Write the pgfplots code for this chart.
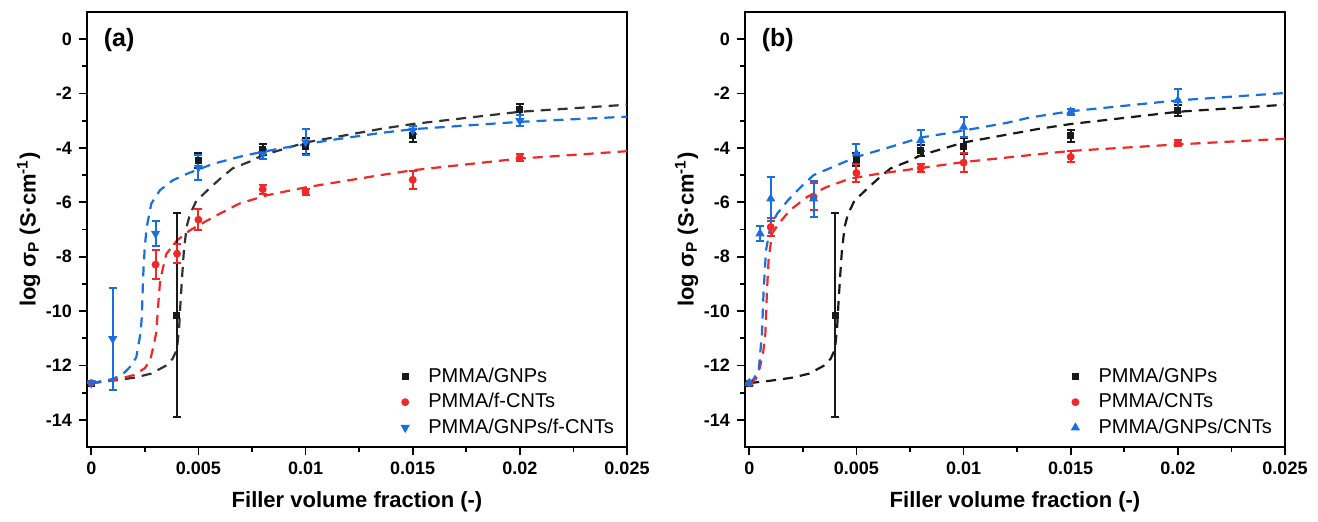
\documentclass[border=0pt]{standalone}
\usepackage{pgfplots}
\pgfplotsset{compat=1.18}
\usepackage{fontspec}
\setmainfont{Liberation Sans}

\definecolor{cblk}{RGB}{25,25,25}
\definecolor{cfitk}{RGB}{50,50,50}
\definecolor{cred}{RGB}{240,40,40}
\definecolor{cblu}{RGB}{25,110,225}

\pgfplotsset{
  panel/.style={
    scale only axis, width=270pt, height=217.5pt,
    xmin=-0.0002, xmax=0.025, ymin=-15, ymax=1,
    xtick={0,0.005,0.01,0.015,0.02,0.025},
    ytick={-14,-12,-10,-8,-6,-4,-2,0},
    minor x tick num=1, minor y tick num=1,
    tick pos=left, tick align=outside,
    major tick length=4pt, minor tick length=2.5pt,
    axis line style={line width=1pt},
    every tick/.style={line width=0.9pt, black},
    scaled x ticks=false,
    /pgf/number format/assume math mode=true,
    xticklabel style={/pgf/number format/fixed, /pgf/number format/precision=3},
    ticklabel style={font=\fontsize{9}{10}\selectfont\bfseries},
    xlabel={Filler volume fraction (-)},
    ylabel={log σ\textsubscript{P} (S·cm\textsuperscript{-1})},
    label style={font=\fontsize{11}{13}\selectfont\bfseries},
    ylabel shift=-4pt, xlabel shift=1.5pt,
    legend style={at={(0.995,0.005)}, anchor=south east, draw=none, fill=none,
      font=\fontsize{10}{12.5}\selectfont, column sep=8pt},
    legend cell align=left,
  },
  fit/.style={no marks, line width=1.1pt, dash pattern=on 5pt off 3.5pt},
  dat/.style={only marks, line width=0.9pt,
    error bars/y dir=both, error bars/y explicit,
    error bars/error bar style={line width=1pt},
    error bars/error mark options={rotate=90, mark size=2pt, line width=1pt}},
}

\begin{document}
\begin{tikzpicture}
\useasboundingbox (-43.5pt,-37pt) rectangle (615.5pt,223.5pt);

% ---------- (a) ----------
\begin{axis}[panel]
\addplot[fit, cfitk, forget plot] coordinates {
 (0,-12.65) (0.001,-12.56) (0.002,-12.45) (0.0028,-12.3) (0.0035,-12.0)
 (0.0038,-11.75) (0.004,-11.4) (0.0041,-10.6) (0.00417,-9.6) (0.00425,-8.6)
 (0.00432,-7.8) (0.00445,-6.9) (0.0046,-6.45) (0.0049,-5.95) (0.0055,-5.5)
 (0.0061,-5.07) (0.0066,-4.75) (0.0074,-4.5) (0.008,-4.27) (0.01,-3.8)
 (0.0135,-3.3) (0.015,-3.12) (0.02,-2.67) (0.025,-2.41)};
\addplot[fit, cred, forget plot] coordinates {
 (0,-12.65) (0.001,-12.55) (0.002,-12.35) (0.0025,-12.1) (0.00275,-11.8)
 (0.0029,-11.3) (0.00303,-10.8) (0.00314,-9.6) (0.0032,-9.0) (0.00329,-8.6)
 (0.0035,-7.9) (0.004,-7.4) (0.0046,-7.03) (0.0057,-6.54) (0.0069,-6.05)
 (0.0082,-5.74) (0.01,-5.45) (0.0135,-5.0) (0.015,-4.82) (0.02,-4.39) (0.025,-4.12)};
\addplot[fit, cblu, forget plot] coordinates {
 (0,-12.65) (0.001,-12.5) (0.0015,-12.3) (0.0018,-12.06) (0.0021,-11.7)
 (0.0023,-10.8) (0.00236,-10.2) (0.0024,-9.2) (0.00244,-8.4) (0.0025,-7.6)
 (0.00259,-6.9) (0.0028,-6.05) (0.0032,-5.56) (0.0038,-5.19) (0.0045,-4.94)
 (0.0057,-4.58) (0.0072,-4.27) (0.0088,-4.02) (0.0111,-3.72) (0.0135,-3.45)
 (0.015,-3.31) (0.02,-3.04) (0.025,-2.85)};

\addplot[dat, cblk, mark=square*, mark size=1.3pt] table[x=x, y=y, y error=e] {
x y e
0 -12.65 0
0.004 -10.16 3.75
0.005 -4.45 0.27
0.008 -4.07 0.2
0.01 -3.93 0.28
0.015 -3.53 0.24
0.02 -2.6 0.2
};
\addlegendentry{PMMA/GNPs}
\addplot[dat, cred, mark=*, mark size=1.5pt] table[x=x, y=y, y error=e] {
x y e
0 -12.65 0
0.003 -8.29 0.52
0.004 -7.89 0.34
0.005 -6.64 0.39
0.008 -5.52 0.17
0.01 -5.62 0.12
0.015 -5.17 0.33
0.02 -4.36 0.12
};
\addlegendentry{PMMA/f-CNTs}
\addplot[dat, cblu, mark=triangle*, mark size=1.8pt, mark options={rotate=180}] table[x=x, y=y, y error=e] {
x y e
0 -12.65 0
0.001 -11.02 1.87
0.003 -7.15 0.47
0.005 -4.72 0.46
0.008 -4.23 0.18
0.01 -3.78 0.49
0.015 -3.35 0.15
0.02 -3.0 0.2
};
\addlegendentry{PMMA/GNPs/f-CNTs}
\node[anchor=west, font=\fontsize{12.5}{14}\selectfont\bfseries] at (rel axis cs:0.018,0.935) {(a)};
\end{axis}

% ---------- (b) ----------
\begin{axis}[panel, at={(329pt,0pt)}]
\addplot[fit, cblk, forget plot] coordinates {
 (0,-12.65) (0.001,-12.56) (0.002,-12.45) (0.0028,-12.3) (0.0035,-12.0)
 (0.0038,-11.75) (0.004,-11.4) (0.0041,-10.6) (0.00417,-9.6) (0.00425,-8.6)
 (0.00432,-7.8) (0.00445,-6.9) (0.0046,-6.45) (0.0049,-5.95) (0.0055,-5.5)
 (0.0061,-5.07) (0.0066,-4.75) (0.0074,-4.5) (0.008,-4.27) (0.01,-3.8)
 (0.0135,-3.3) (0.015,-3.12) (0.02,-2.67) (0.025,-2.41)};
\addplot[fit, cred, forget plot] coordinates {
 (0,-12.65) (0.0003,-12.5) (0.0005,-12.06) (0.00065,-11.5) (0.00075,-10.83)
 (0.00082,-9.36) (0.0009,-8.13) (0.00106,-7.15) (0.00137,-6.79) (0.0019,-6.29)
 (0.0027,-5.8) (0.0036,-5.44) (0.0047,-5.13) (0.0061,-4.94) (0.008,-4.74)
 (0.01,-4.52) (0.0135,-4.23) (0.015,-4.11) (0.02,-3.87) (0.025,-3.66)};
\addplot[fit, cblu, forget plot] coordinates {
 (0,-12.65) (0.0002,-12.5) (0.00044,-12.18) (0.00059,-10.83) (0.00067,-9.24)
 (0.00078,-7.77) (0.00098,-6.9) (0.0013,-6.42) (0.0018,-5.93) (0.0024,-5.44)
 (0.003,-5.0) (0.0039,-4.7) (0.005,-4.33) (0.0066,-3.96) (0.008,-3.62)
 (0.01,-3.36) (0.012,-3.08) (0.0131,-2.88) (0.015,-2.65) (0.02,-2.25) (0.025,-1.98)};

\addplot[dat, cblk, mark=square*, mark size=1.3pt] table[x=x, y=y, y error=e] {
x y e
0 -12.65 0
0.004 -10.16 3.75
0.005 -4.43 0.25
0.008 -4.11 0.2
0.01 -3.93 0.28
0.015 -3.56 0.22
0.02 -2.61 0.2
};
\addlegendentry{PMMA/GNPs}
\addplot[dat, cred, mark=*, mark size=1.5pt] table[x=x, y=y, y error=e] {
x y e
0 -12.65 0
0.001 -6.91 0.34
0.003 -5.8 0.5
0.005 -4.92 0.33
0.008 -4.74 0.15
0.01 -4.54 0.34
0.015 -4.33 0.2
0.02 -3.82 0.12
};
\addlegendentry{PMMA/CNTs}
\addplot[dat, cblu, mark=triangle*, mark size=1.8pt] table[x=x, y=y, y error=e] {
x y e
0 -12.65 0
0.0005 -7.15 0.28
0.001 -5.87 0.81
0.003 -5.87 0.67
0.005 -4.21 0.36
0.008 -3.72 0.38
0.01 -3.23 0.37
0.015 -2.67 0.12
0.02 -2.25 0.43
};
\addlegendentry{PMMA/GNPs/CNTs}
\node[anchor=west, font=\fontsize{12.5}{14}\selectfont\bfseries] at (rel axis cs:0.018,0.935) {(b)};
\end{axis}
\end{tikzpicture}
\end{document}
